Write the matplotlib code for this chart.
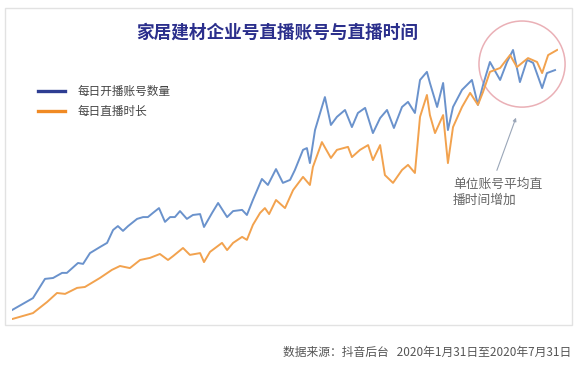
import matplotlib
matplotlib.use("Agg")
import matplotlib.pyplot as plt
from matplotlib.patches import Ellipse, Rectangle
from matplotlib.lines import Line2D

plt.rcParams['font.family'] = ['Noto Sans CJK SC', 'DejaVu Sans']

# days since 2020-01-31 (relative index 0-100)
blue_days = [0, 7, 11, 13.7, 16.7, 18.3, 22, 23.7, 26, 29.3, 31.7, 33.7, 35.3, 37, 38.7,
             41.7, 43.7, 45.3, 47, 49, 51, 52.7, 54.3, 56, 58.3, 60.3, 62.7, 64, 66.7,
             68.7, 71.7, 73.7, 76.7, 78.3, 80.3, 83.3, 85.3, 88, 90.3, 92.7, 94.3, 97,
             98.3, 99.3, 101, 102.7, 104.3, 106.3, 108.3, 111, 113.3, 115.3, 117.7,
             120.3, 122.7, 125, 127.3, 130, 132, 134.3, 136, 138.3, 139.3, 141.7, 143.7,
             145.3, 147, 150, 153.3, 155.3, 157, 159.3, 162.7, 165, 167, 169.3, 171.7,
             173.7, 176.7, 178.3, 181]
blue_vals = [3.3, 7.3, 13.7, 14, 15.7, 15.7, 19, 18.7, 22.3, 24.3, 25.7, 30, 31.3, 29.7, 31.3,
             33.7, 34.3, 34.3, 35.7, 37.3, 32.7, 34.3, 34.3, 36.3, 33.7, 35, 35.3, 31, 35.7,
             39, 34.3, 36.3, 36.7, 35, 40, 47, 45, 50.3, 45.7, 46.7, 50, 56.7,
             57.3, 52.3, 63.3, 69, 74.3, 65, 67.7, 70, 64.3, 69, 70.7,
             62.3, 67.3, 70, 64, 71, 72.7, 69, 80, 82.7, 79, 71, 79,
             63.3, 71, 76.7, 80, 71.7, 78.3, 86, 80, 86, 90, 79.3, 86.7,
             85.7, 77.3, 82.3, 83.3]

orange_days = [0, 7, 11.7, 15, 17.7, 21.7, 24.3, 29.3, 33.3, 36, 39.3, 42.7, 46, 49.3, 52,
               53.7, 57, 59.3, 62.7, 64, 66, 70, 71.7, 73.7, 76.7, 78.3, 80.3, 82.7, 84.3,
               85.7, 88, 91, 93.7, 97, 99.3, 100.3, 103.3, 106.3, 108.3, 112, 113.3, 116,
               118.7, 120.3, 122.7, 124.3, 127, 130, 132, 134.3, 136, 138.3, 139.3, 141,
               143.7, 145.3, 147, 150, 152.7, 155.3, 157, 159.3, 162.7, 166, 168.3, 172,
               175, 176.7, 178.7, 181.7]
orange_vals = [0.3, 2.3, 6, 9, 8.7, 10.7, 11, 14, 16.7, 18, 17.3, 20, 20.7, 22, 20,
               21.3, 24, 21.7, 22.3, 19.3, 22.7, 25.7, 23.3, 25.7, 27.7, 26.7, 31.7, 35.7, 37.3,
               35.3, 40, 37.3, 43.3, 47.7, 45, 51, 59.3, 54, 56.7, 57.7, 54.3, 56.7,
               58.3, 53.3, 58.3, 48.3, 45.7, 50, 51.7, 49, 67.7, 75, 68.3, 62.3,
               68.3, 52.3, 64.3, 71, 75.7, 71.7, 76, 82.7, 84, 88.3, 84.3, 87.3,
               86, 82.3, 88.3, 90]

title = "家居建材企业号直播账号与直播时间"
legend_labels = ["每日开播账号数量", "每日直播时长"]
note = "单位账号平均直\n播时间增加"
source = "数据来源：抖音后台   2020年1月31日至2020年7月31日"

fig = plt.figure(figsize=(5.76, 3.79), dpi=100)
fig.patch.set_facecolor("white")

# light card frame
fig.patches.append(Rectangle((0.0087, 0.1425), 0.984, 0.836, transform=fig.transFigure,
                             fill=False, edgecolor="#e2e2e2", lw=1.0))

ax = fig.add_axes([0.0208, 0.1557, 0.948, 0.7916])
ax.plot(blue_days, blue_vals, color="#6a92cc", lw=1.4)
ax.plot(orange_days, orange_vals, color="#f2a24e", lw=1.4)
ax.set_xlim(0, 182)
ax.set_ylim(0, 100)
ax.axis("off")

# highlight circle and arrow
ax.add_patch(Ellipse((170, 85.3), 28.7, 28.7, fill=False, edgecolor="#eab0b6",
                     lw=1.1, clip_on=False))
ax.annotate("", xy=(168.3, 68.3), xytext=(161.3, 49),
            arrowprops=dict(arrowstyle="-|>", color="#9aa6b8", lw=0.8, mutation_scale=5))
ax.text(147, 47.5, note, ha="left", va="top", fontsize=9.2, color="#666666",
        linespacing=1.35)

fig.text(0.481, 0.913, title, ha="center", va="center", fontsize=12.7,
         fontweight="bold", color="#2b2f8c")

leg_colors = ["#2e3d92", "#f08a24"]
leg_y = [0.760, 0.707]
for lab, c, y in zip(legend_labels, leg_colors, leg_y):
    fig.lines.append(Line2D([0.066, 0.113], [y, y], transform=fig.transFigure,
                            color=c, lw=2.4))
    fig.text(0.135, y, lab, ha="left", va="center", fontsize=8.4, color="#444444")

fig.text(0.991, 0.071, source, ha="right", va="center", fontsize=8.5, color="#555555")

fig.savefig("out.png", dpi=100, facecolor="white")
